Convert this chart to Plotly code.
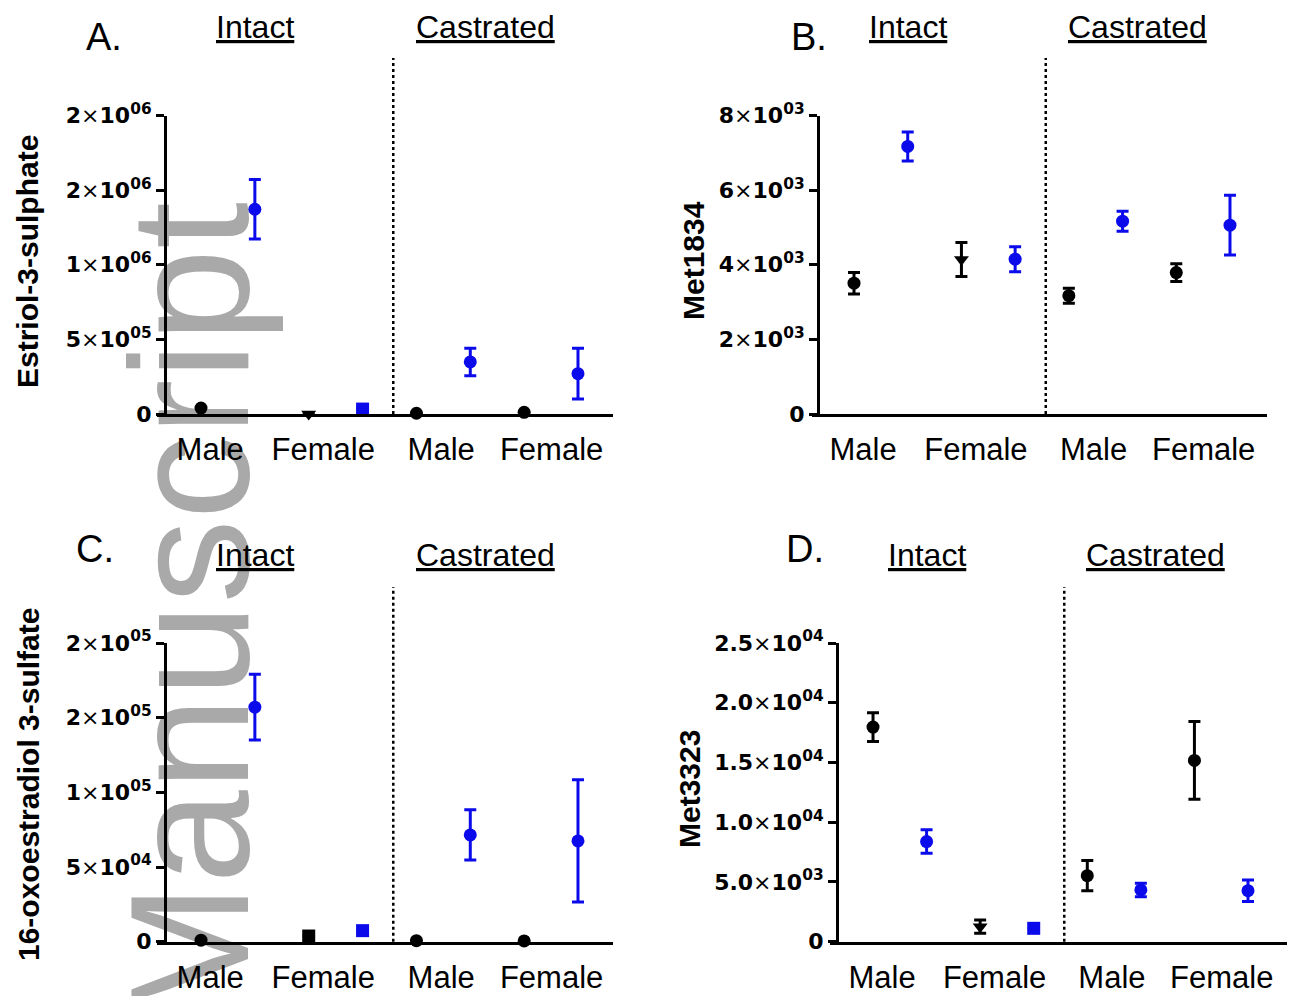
import plotly.graph_objects as go

W, H = 1289, 996

# ---------------- data ----------------
sex_labels = ["Male", "Female", "Male", "Female"]
condition_labels = ["Intact", "Castrated"]
panel_letters = ["A.", "B.", "C.", "D."]
y_titles = ["Estriol-3-sulphate", "Met1834", "16-oxoestradiol 3-sulfate", "Met3323"]

# order of points inside each series: Intact Male, Intact Female, Castrated Male, Castrated Female
a_black = [40000, 0, 5000, 11000]
a_black_err = [0, 0, 0, 0]
a_blue = [1372000, 33000, 349000, 270000]
a_blue_err = [199000, 4000, 92000, 170000]
a_tickvals = [0, 500000, 1000000, 1500000, 2000000]
a_ticktext = ["0", "5×10^05", "1×10^06", "2×10^06", "2×10^06"]

b_black = [3505, 4140, 3170, 3790]
b_black_err = [290, 455, 200, 240]
b_blue = [7170, 4150, 5167, 5060]
b_blue_err = [390, 335, 270, 800]
b_tickvals = [0, 2000, 4000, 6000, 8000]
b_ticktext = ["0", "2×10^03", "4×10^03", "6×10^03", "8×10^03"]

c_black = [1000, 3800, 700, 500]
c_black_err = [0, 0, 0, 0]
c_blue = [157000, 7400, 71500, 67500]
c_blue_err = [22000, 0, 16800, 41000]
c_tickvals = [0, 50000, 100000, 150000, 200000]
c_ticktext = ["0", "5×10^04", "1×10^05", "2×10^05", "2×10^05"]

d_black = [17960, 1260, 5530, 15170]
d_black_err = [1200, 560, 1270, 3250]
d_blue = [8380, 1120, 4330, 4270]
d_blue_err = [980, 0, 560, 900]
d_tickvals = [0, 5000, 10000, 15000, 20000, 25000]
d_ticktext = ["0", "5.0×10^03", "1.0×10^04", "1.5×10^04", "2.0×10^04", "2.5×10^04"]

# ---------------- styling / layout ----------------
BLUE = "#0a0aeb"
black_x = [1, 3, 5, 7]
blue_x = [2, 4, 6, 8]
sex_tick_pos = [1.17, 3.27, 5.46, 7.51]
cond_pos = [2.0, 6.28]
divider_x = 4.57

black_symbols = [
    ["circle", "triangle-down", "circle", "circle"],
    ["circle", "triangle-down", "circle", "circle"],
    ["circle", "square", "circle", "circle"],
    ["circle", "triangle-down", "circle", "circle"],
]
blue_symbols = [
    ["circle", "square", "circle", "circle"],
    ["circle", "circle", "circle", "circle"],
    ["circle", "square", "circle", "circle"],
    ["circle", "square", "circle", "circle"],
]

geo = [
    dict(xl=157, xr=613, ya=165, yt=115.5, yb=414, xr_=(0.183, 8.65), tx=28, ty=262, lx=84, ly=37, cy=27, dt=58),
    dict(xl=812, xr=1267, ya=818, yt=115.5, yb=414, xr_=(0.218, 8.689), tx=694, ty=261, lx=789, ly=37, cy=27, dt=58),
    dict(xl=157, xr=613, ya=165, yt=643, yb=941.7, xr_=(0.183, 8.65), tx=28, ty=785, lx=74, ly=549, cy=555, dt=587),
    dict(xl=830, xr=1287, ya=837, yt=643, yb=941.7, xr_=(0.197, 8.728), tx=689, ty=789, lx=784, ly=549, cy=555, dt=587),
]

panels = [
    (a_black, a_black_err, a_blue, a_blue_err, a_tickvals, a_ticktext),
    (b_black, b_black_err, b_blue, b_blue_err, b_tickvals, b_ticktext),
    (c_black, c_black_err, c_blue, c_blue_err, c_tickvals, c_ticktext),
    (d_black, d_black_err, d_blue, d_blue_err, d_tickvals, d_ticktext),
]


def fmt_tick(s):
    if "×" not in s:
        return "<b>%s</b>" % s
    mant, rest = s.split("×")
    base, exp = rest.split("^")
    return "<b>%s</b>×<b>%s</b><sup><b>%s</b></sup>" % (mant, base, exp)


fig = go.Figure()
annotations = []
shapes = []
layout_axes = {}

for i, (bk, bke, bl, ble, tv, tt) in enumerate(panels):
    g = geo[i]
    n = i + 1
    xa = "x" if n == 1 else "x%d" % n
    ya = "y" if n == 1 else "y%d" % n
    xkey = "xaxis" if n == 1 else "xaxis%d" % n
    ykey = "yaxis" if n == 1 else "yaxis%d" % n

    fig.add_trace(go.Scatter(
        x=black_x, y=bk, mode="markers", xaxis=xa, yaxis=ya, cliponaxis=False,
        marker=dict(color="black", size=13, symbol=black_symbols[i]),
        error_y=dict(type="data", array=bke, visible=True,
                     color="black", thickness=3, width=6),
        showlegend=False))
    fig.add_trace(go.Scatter(
        x=blue_x, y=bl, mode="markers", xaxis=xa, yaxis=ya, cliponaxis=False,
        marker=dict(color=BLUE, size=13, symbol=blue_symbols[i]),
        error_y=dict(type="data", array=ble, visible=True,
                     color=BLUE, thickness=3, width=6),
        showlegend=False))

    layout_axes[xkey] = dict(
        domain=[g["xl"] / W, g["xr"] / W], anchor=ya, range=list(g["xr_"]),
        automargin=False,
        showline=True, linewidth=3, linecolor="black", ticks="",
        tickvals=sex_tick_pos, ticktext=sex_labels, showgrid=False, zeroline=False,
        tickfont=dict(family="Liberation Sans, Arial", size=31, color="black"),
        ticklabelstandoff=6, fixedrange=True)
    layout_axes[ykey] = dict(
        domain=[1 - g["yb"] / H, 1 - g["yt"] / H], anchor="free", position=g["ya"] / W,
        automargin=False,
        range=[0, tv[-1]], showline=True, linewidth=3, linecolor="black",
        ticks="outside", ticklen=8, tickwidth=3, tickcolor="black",
        tickvals=tv, ticktext=[fmt_tick(t) for t in tt], showgrid=False, zeroline=False,
        tickfont=dict(family="DejaVu Sans", size=22, color="black"), fixedrange=True)

    shapes.append(dict(type="line", xref=xa, yref="paper", x0=divider_x, x1=divider_x,
                       y0=1 - g["yb"] / H, y1=1 - g["dt"] / H,
                       line=dict(color="black", width=2.5, dash="dot")))
    for lab, px in zip(condition_labels, cond_pos):
        annotations.append(dict(xref=xa, yref="paper", x=px, y=1 - g["cy"] / H,
                                text="<u>%s</u>" % lab, showarrow=False,
                                xanchor="center", yanchor="middle",
                                font=dict(family="Liberation Sans, Arial", size=32, color="black")))
    annotations.append(dict(xref="paper", yref="paper", x=g["lx"] / W, y=1 - g["ly"] / H,
                            text=panel_letters[i], showarrow=False, xanchor="left", yanchor="middle",
                            font=dict(family="Liberation Sans, Arial", size=38, color="black")))
    annotations.append(dict(xref="paper", yref="paper", x=g["tx"] / W, y=1 - g["ty"] / H,
                            text="<b>%s</b>" % y_titles[i], showarrow=False, textangle=-90,
                            xanchor="center", yanchor="middle",
                            font=dict(family="Liberation Sans, Arial", size=30, color="black")))

# watermark (behind the plots)
cx, cy = 174, 613
shapes.insert(0, dict(type="rect", xref="paper", yref="paper",
                      x0=(cx - 40) / W, x1=(cx + 40) / W, y0=1 - (cy + 40) / H, y1=1 - (cy - 40) / H,
                      line=dict(width=0), fillcolor="rgba(0,0,0,0)", layer="below",
                      label=dict(text="Manuscript", textangle=-90, textposition="middle center",
                                 font=dict(family="Liberation Sans, Arial", size=168, color="#a9a9a9"))))

fig.update_layout(
    template="none",
    width=W, height=H, margin=dict(l=0, r=0, t=0, b=0, pad=0, autoexpand=False),
    paper_bgcolor="white", plot_bgcolor="rgba(0,0,0,0)",
    showlegend=False, annotations=annotations, shapes=shapes,
    **layout_axes)

fig.write_html("out.html", config={"displayModeBar": False})
